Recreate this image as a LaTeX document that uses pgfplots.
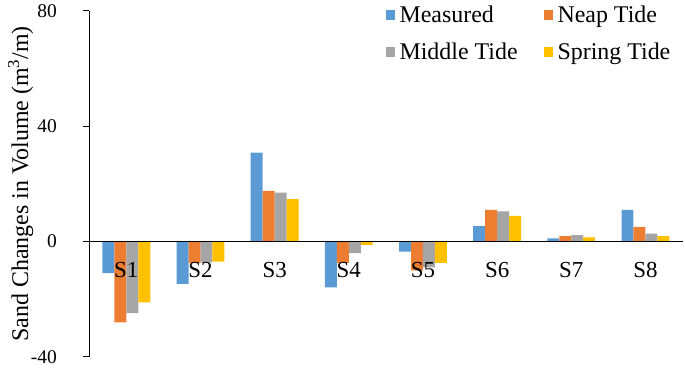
\documentclass[border={8pt 3pt 2pt 1pt}]{standalone}
\usepackage{fontspec}
\setmainfont{Liberation Serif}
\usepackage{pgfplots}
\pgfplotsset{compat=1.18}
\definecolor{cMeas}{HTML}{5B9BD5}
\definecolor{cNeap}{HTML}{ED7D31}
\definecolor{cMid}{HTML}{A5A5A5}
\definecolor{cSpr}{HTML}{FFC000}
\begin{document}
\begin{tikzpicture}
\begin{axis}[
  scale only axis, width=595pt, height=347pt,
  ymin=-40, ymax=80, ytick={-40,0,40,80},
  xmin=-0.5, xmax=7.5, xtick={0,...,7},
  xticklabels={S1,S2,S3,S4,S5,S6,S7,S8},
  axis y line=left, axis x line=middle,
  axis line style={-, line width=1pt, black},
  axis on top,
  ybar=0pt, bar width=12pt,
  xtick style={draw=none},
  ytick style={black, line width=1pt},
  tick align=outside, major tick length=6pt,
  /pgf/number format/assume math mode=true,
  yticklabel style={font=\rmfamily\fontsize{19.5}{21}\selectfont, xshift=-23pt},
  xticklabel style={font=\rmfamily\fontsize{23}{26}\selectfont, yshift=-11pt},
  ylabel={Sand Changes in Volume (m\textsuperscript{3}/m)},
  ylabel style={font=\rmfamily\fontsize{24}{27}\selectfont,
    at={(axis description cs:0,0.5)}, anchor=south, yshift=56pt, inner sep=0pt},
  legend style={draw=none, fill=none, at={(rel axis cs:1,1)}, anchor=north east,
    xshift=-7pt, yshift=9pt,
    font=\rmfamily\fontsize{24}{27}\selectfont, legend columns=2,
    row sep=15pt},
  legend cell align=left,
  legend image code/.code={\path (-24pt,0pt) (12pt,0pt); \fill[#1] (0pt,-4.75pt) rectangle (9.5pt,4.75pt);},
]
\addplot[fill=cMeas, draw=none] coordinates {(0,-11) (1,-14.7) (2,30.8) (3,-15.9) (4,-3.5) (5,5.3) (6,1.1) (7,11)};
\addplot[fill=cNeap, draw=none] coordinates {(0,-28) (1,-7.5) (2,17.6) (3,-7.4) (4,-10) (5,11) (6,1.9) (7,5.1)};
\addplot[fill=cMid, draw=none] coordinates {(0,-24.8) (1,-7.2) (2,17) (3,-4) (4,-9) (5,10.5) (6,2.2) (7,2.7)};
\addplot[fill=cSpr, draw=none] coordinates {(0,-21.1) (1,-7) (2,14.7) (3,-1.2) (4,-7.4) (5,8.9) (6,1.4) (7,1.9)};
\legend{Measured, Neap Tide, Middle Tide, Spring Tide}
\end{axis}
\end{tikzpicture}
\end{document}
